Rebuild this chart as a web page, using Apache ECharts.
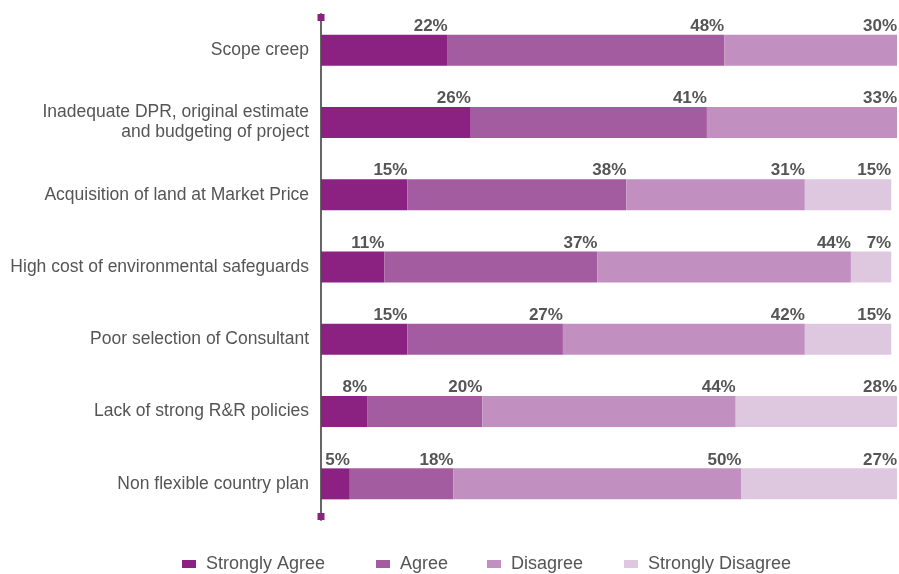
<!DOCTYPE html>
<html>
<head>
<meta charset="utf-8">
<script src="https://cdn.jsdelivr.net/npm/echarts@6/dist/echarts.min.js"></script>
<style>
  html, body { margin: 0; padding: 0; background: #fff; }
  #chart { width: 899px; height: 574px; }
</style>
</head>
<body>
<div id="chart"></div>
<script>
// Survey: reasons for cost overruns, share of responses (%)
const categories = [
  'Scope creep',
  'Inadequate DPR, original estimate\nand budgeting of project',
  'Acquisition of land at Market Price',
  'High cost of environmental safeguards',
  'Poor selection of Consultant',
  'Lack of strong R&R policies',
  'Non flexible country plan'
];
const stronglyAgree    = [22, 26, 15, 11, 15, 8, 5];
const agree            = [48, 41, 38, 37, 27, 20, 18];
const disagree         = [30, 33, 31, 44, 42, 44, 50];
const stronglyDisagree = [null, null, 15, 7, 15, 28, 27];

const seriesNames  = ['Strongly Agree', 'Agree', 'Disagree', 'Strongly Disagree'];
const seriesColors = ['#8b2282', '#a35c9f', '#c190c0', '#dec8e0'];
const seriesValues = [stronglyAgree, agree, disagree, stronglyDisagree];

// Left edge of each legend entry
const legendLefts = [177, 371, 482, 619];

const FONT = '"Liberation Sans", Arial, sans-serif';

const chart = echarts.init(document.getElementById('chart'));

const series = seriesValues.map((vals, i) => ({
  name: seriesNames[i],
  type: 'bar',
  stack: 'total',
  barWidth: 31,
  data: vals,
  itemStyle: { color: seriesColors[i] },
  label: {
    show: true,
    position: ['100%', 0],
    align: 'right',
    verticalAlign: 'bottom',
    offset: [0, 0],
    formatter: p => p.value + '%',
    color: '#555555',
    fontFamily: FONT,
    fontWeight: 'bold',
    fontSize: 17
  }
}));

const legends = seriesNames.map((name, i) => ({
  data: [name],
  left: legendLefts[i],
  top: 550,
  itemWidth: 14,
  itemHeight: 8,
  icon: 'rect',
  textStyle: { color: '#555555', fontSize: 18, fontFamily: FONT, padding: [0, 0, 0, 5] }
}));

chart.setOption({
  animation: false,
  backgroundColor: '#ffffff',
  grid: { left: 321, right: 2, top: 14, bottom: 54, containLabel: false },
  legend: legends,
  xAxis: {
    type: 'value',
    min: 0,
    max: 100,
    show: false
  },
  yAxis: {
    type: 'category',
    data: categories,
    inverse: true,
    axisLine: { show: true, lineStyle: { color: '#666666', width: 2 } },
    axisTick: { show: false },
    axisLabel: {
      color: '#555555',
      fontSize: 17.5,
      fontFamily: FONT,
      margin: 12,
      lineHeight: 20,
      align: 'right'
    }
  },
  series: series
});

// Small end caps on the category axis line
const rect = chart.getModel().getComponent('grid').coordinateSystem.getRect();
const cap = 7;
chart.setOption({
  graphic: [rect.y, rect.y + rect.height - cap].map(y => ({
    type: 'rect',
    shape: { x: rect.x - cap / 2, y: y, width: cap, height: cap },
    style: { fill: '#8b2282' },
    z: 10
  }))
});
</script>
</body>
</html>
